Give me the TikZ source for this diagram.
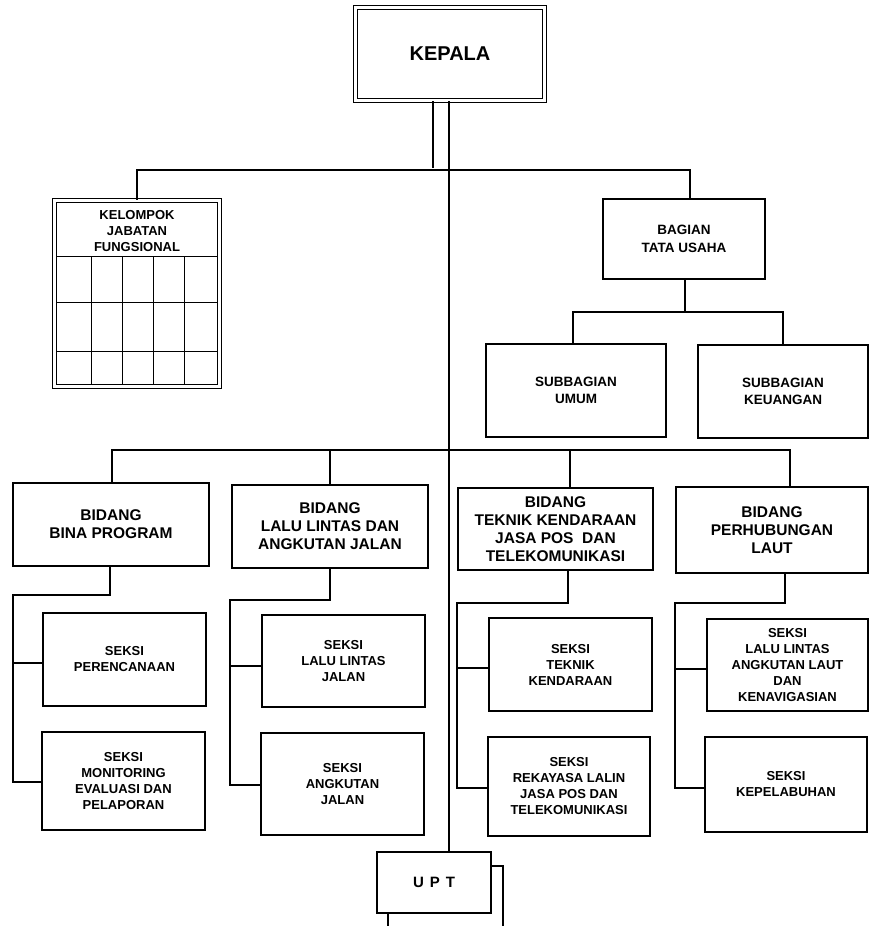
\documentclass[tikz,border=0pt]{standalone}
\usepackage{fontspec}
\setmainfont{Liberation Sans}
\begin{document}
\begin{tikzpicture}[x=1pt,y=-1pt,
  line width=1.4pt,
  box/.style={draw, line width=1.4pt, fill=white, align=center, inner sep=0pt},
  dbox/.style={draw, double, double distance=2.6pt, line width=1.3pt, fill=white, inner sep=0pt, align=center},
  fkep/.style={font=\fontsize{20}{24}\selectfont\bfseries},
  fbid/.style={font=\fontsize{15.5}{18}\selectfont\bfseries},
  fsek/.style={font=\fontsize{13}{16}\selectfont\bfseries},
  fsub/.style={font=\fontsize{13.5}{17}\selectfont\bfseries},
  fbag/.style={font=\fontsize{13.5}{18}\selectfont\bfseries},
  fkel/.style={font=\fontsize{13}{16}\selectfont\bfseries},
  grid/.style={line width=1pt}
]
\useasboundingbox (0,0) rectangle (869,926);
\clip (0,0) rectangle (869,926);

% top
\node[dbox, fkep, minimum width=189, minimum height=93] (kep) at (450,54) {KEPALA};
\node[dbox, minimum width=165, minimum height=186] (kel) at (137,293.5) {};
\node[fkel, align=center, inner sep=0pt] (keltxt) at (137,231) {KELOMPOK\\JABATAN\\FUNGSIONAL};
\draw[grid] (56,256) -- (218,256);
\draw[grid] (56,302) -- (218,302);
\draw[grid] (56,351) -- (218,351);
\foreach \cx in {91,122,153,184} \draw[grid] (\cx,256) -- (\cx,385);

\node[box, fbag, minimum width=162, minimum height=80] (bag) at (684,239) {BAGIAN\\TATA USAHA};
\node[box, fsub, minimum width=180, minimum height=93] (subum) at (576,390.5) {SUBBAGIAN\\UMUM};
\node[box, fsub, minimum width=170, minimum height=93] (subkeu) at (783,391.5) {SUBBAGIAN\\KEUANGAN};

% bidang
\node[box, fbid, minimum width=196, minimum height=83] (bina) at (111,524.5) {BIDANG\\BINA PROGRAM};
\node[box, fbid, minimum width=196, minimum height=83] (ll) at (330,526.5) {BIDANG\\LALU LINTAS DAN\\ANGKUTAN JALAN};
\node[box, fbid, minimum width=195, minimum height=82] (tek) at (555.5,529) {BIDANG\\TEKNIK KENDARAAN\\JASA POS\ \ DAN\\TELEKOMUNIKASI};
\node[box, fbid, minimum width=192, minimum height=86] (laut) at (772,530) {BIDANG\\PERHUBUNGAN\\LAUT};

% seksi
\node[box, fsek, minimum width=163, minimum height=93] (s1) at (124.5,659.5) {SEKSI\\PERENCANAAN};
\node[box, fsek, minimum width=163, minimum height=98] (s2) at (123.5,781) {SEKSI\\MONITORING\\EVALUASI DAN\\PELAPORAN};
\node[box, fsek, minimum width=163, minimum height=92] (s3) at (343.5,661) {SEKSI\\LALU LINTAS\\JALAN};
\node[box, fsek, minimum width=163, minimum height=102] (s4) at (342.5,784) {SEKSI\\ANGKUTAN\\JALAN};
\node[box, fsek, minimum width=163, minimum height=93] (s5) at (570.5,664.5) {SEKSI\\TEKNIK\\KENDARAAN};
\node[box, fsek, minimum width=162, minimum height=99] (s6) at (569,786.5) {SEKSI\\REKAYASA LALIN\\JASA POS DAN\\TELEKOMUNIKASI};
\node[box, fsek, minimum width=161, minimum height=92] (s7) at (787.5,665) {SEKSI\\LALU LINTAS\\ANGKUTAN LAUT\\DAN\\KENAVIGASIAN};
\node[box, fsek, minimum width=162, minimum height=95] (s8) at (786,784.5) {SEKSI\\KEPELABUHAN};

% UPT
\draw[line width=1.4pt, fill=white] (388,866) rectangle (503,945);
\node[box, font=\fontsize{15}{18}\selectfont\bfseries, minimum width=114, minimum height=61] (upt) at (434,882.5) {U\hspace{6pt}P\hspace{6pt}T};

% connectors
\coordinate (tbar) at (433,168);
\coordinate (spine) at (449,450);
\draw (kep.south -| tbar) -- (tbar);
\draw (kel.north) -- ++(0,-30) -| ([xshift=6pt]bag.north);
\draw (kep.south -| spine) -- (upt.north -| spine);

\coordinate (sj) at (685,312);
\draw (bag.south -| sj) -- (sj);
\draw ([xshift=-3pt]subum.north) |- (sj) -| (subkeu.north);

\draw ([xshift=1pt]bina.north) |- (spine) -| ([xshift=18pt]laut.north);
\draw (ll.north) -- (ll.north |- spine);
\draw ([xshift=14.5pt]tek.north) -- ([xshift=14.5pt]tek.north |- spine);

% entry points on the seksi boxes
\coordinate (e1) at ([yshift=-3.5pt]s1.west);
\coordinate (e2) at ([yshift=-1pt]s2.west);
\coordinate (e3) at ([yshift=-5pt]s3.west);
\coordinate (e4) at ([yshift=-1pt]s4.west);
\coordinate (e5) at ([yshift=-3.5pt]s5.west);
\coordinate (e6) at ([yshift=-1.5pt]s6.west);
\coordinate (e7) at ([yshift=-4pt]s7.west);
\coordinate (e8) at ([yshift=-3.5pt]s8.west);

\coordinate (b1) at (13,595);
\draw ([xshift=-1pt]bina.south) |- (b1) -- (b1 |- e2) -- (e2);
\draw (b1 |- e1) -- (e1);

\coordinate (l1) at (230,600);
\draw (ll.south) |- (l1) -- (l1 |- e4) -- (e4);
\draw (l1 |- e3) -- (e3);

\coordinate (t1) at (457,603);
\draw ([xshift=12.5pt]tek.south) |- (t1) -- (t1 |- e6) -- (e6);
\draw (t1 |- e5) -- (e5);

\coordinate (p1) at (675,603);
\draw ([xshift=13pt]laut.south) |- (p1) -- (p1 |- e8) -- (e8);
\draw (p1 |- e7) -- (e7);
\end{tikzpicture}
\end{document}
